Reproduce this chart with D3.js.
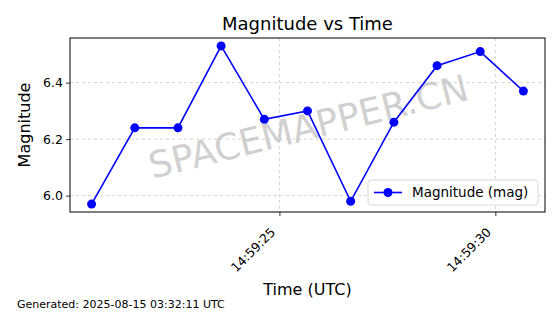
<!DOCTYPE html>
<html><head><meta charset="utf-8">
<script src="https://cdn.jsdelivr.net/npm/d3@7"></script>
<style>body{margin:0;background:#fff}svg{display:block;font-family:"DejaVu Sans",sans-serif}</style>
</head><body><div id="chart"></div>
<script>
const times = ["2025-08-15T14:59:20.65Z","2025-08-15T14:59:21.65Z","2025-08-15T14:59:22.65Z","2025-08-15T14:59:23.65Z","2025-08-15T14:59:24.65Z","2025-08-15T14:59:25.65Z","2025-08-15T14:59:26.65Z","2025-08-15T14:59:27.65Z","2025-08-15T14:59:28.65Z","2025-08-15T14:59:29.65Z","2025-08-15T14:59:30.65Z"];
const magnitudes = [5.97, 6.24, 6.24, 6.53, 6.27, 6.30, 5.98, 6.26, 6.46, 6.51, 6.37];
const xTicks = ["2025-08-15T14:59:25Z","2025-08-15T14:59:30Z"];
const yTicks = [6.0, 6.2, 6.4];
const title = "Magnitude vs Time", xLabel = "Time (UTC)", yLabel = "Magnitude";
const legendLabel = "Magnitude (mag)", watermark = "SPACEMAPPER.CN";
const footer = "Generated: 2025-08-15 03:32:11 UTC";

const W = 560, H = 314;
const m = {left:70, right:545, top:38, bottom:212};
const data = times.map((t,i)=>({t:new Date(t), v:magnitudes[i]}));
const svg = d3.select("#chart").append("svg").attr("width",W).attr("height",H);

const tExt = d3.extent(data,d=>+d.t), tPad=(tExt[1]-tExt[0])*0.05;
const x = d3.scaleUtc().domain([tExt[0]-tPad, tExt[1]+tPad]).range([m.left,m.right]);
const vExt = d3.extent(magnitudes), vPad=(vExt[1]-vExt[0])*0.05;
const y = d3.scaleLinear().domain([vExt[0]-vPad, vExt[1]+vPad]).range([m.bottom,m.top]);
const xt = xTicks.map(s=>new Date(s));

// grid
const g = svg.append("g");
g.selectAll(".gx").data(xt).join("line").attr("x1",d=>x(d)).attr("x2",d=>x(d)).attr("y1",m.top).attr("y2",m.bottom)
 .attr("stroke","#b0b0b0").attr("stroke-opacity",0.7).attr("stroke-width",0.8).attr("stroke-dasharray","3,3");
g.selectAll(".gy").data(yTicks).join("line").attr("y1",d=>y(d)).attr("y2",d=>y(d)).attr("x1",m.left).attr("x2",m.right)
 .attr("stroke","#b0b0b0").attr("stroke-opacity",0.7).attr("stroke-width",0.8).attr("stroke-dasharray","3,3");

// watermark
svg.append("text").attr("transform",`translate(${(m.left+m.right)/2+1},${(m.top+m.bottom)/2+2}) rotate(-14)`)
 .attr("text-anchor","middle").attr("dominant-baseline","central").attr("font-size",36.5)
 .attr("fill","#bbbbbb").attr("fill-opacity",0.7).text(watermark);

// line + points
svg.append("path").datum(data).attr("fill","none").attr("stroke","#0000ff").attr("stroke-width",1.6)
 .attr("d",d3.line().x(d=>x(d.t)).y(d=>y(d.v)));
svg.selectAll(".pt").data(data).join("circle").attr("cx",d=>x(d.t)).attr("cy",d=>y(d.v)).attr("r",4.5).attr("fill","#0000ff");

// axes
const xAxis = svg.append("g").attr("transform",`translate(0,${m.bottom})`)
 .call(d3.axisBottom(x).tickValues(xt).tickFormat(d3.utcFormat("%H:%M:%S")).tickSizeOuter(0).tickSize(4));
xAxis.selectAll("text").attr("font-size",12.5).attr("fill","#000").attr("font-family","DejaVu Sans")
 .attr("text-anchor","end").attr("transform","translate(-7,18) rotate(-45)").attr("dy","0.35em").attr("y",0).attr("x",0);
const yAxis = svg.append("g").attr("transform",`translate(${m.left},0)`)
 .call(d3.axisLeft(y).tickValues(yTicks).tickFormat(d3.format(".1f")).tickSizeOuter(0).tickSize(4));
yAxis.selectAll("text").attr("font-size",12.5).attr("fill","#000").attr("font-family","DejaVu Sans");
svg.selectAll(".domain").remove();
svg.selectAll(".tick line").attr("stroke","#000").attr("stroke-width",0.8);
svg.append("rect").attr("x",m.left).attr("y",m.top).attr("width",m.right-m.left).attr("height",m.bottom-m.top)
 .attr("fill","none").attr("stroke","#000").attr("stroke-width",1);

// texts
svg.append("text").attr("x",(m.left+m.right)/2).attr("y",30).attr("text-anchor","middle").attr("font-size",18).text(title);
svg.append("text").attr("x",(m.left+m.right)/2).attr("y",295).attr("text-anchor","middle").attr("font-size",16).text(xLabel);
svg.append("text").attr("transform",`translate(30,${(m.top+m.bottom)/2}) rotate(-90)`).attr("text-anchor","middle").attr("font-size",16).text(yLabel);
svg.append("text").attr("x",17).attr("y",308).attr("font-size",11).text(footer);

// legend
const lg = svg.append("g").attr("transform","translate(368,180)");
lg.append("rect").attr("width",170).attr("height",25).attr("rx",3).attr("fill","#fff").attr("fill-opacity",0.8).attr("stroke","#d8d8d8");
lg.append("line").attr("x1",6).attr("x2",34).attr("y1",12.5).attr("y2",12.5).attr("stroke","#0000ff").attr("stroke-width",1.6);
lg.append("circle").attr("cx",20).attr("cy",12.5).attr("r",4.5).attr("fill","#0000ff");
lg.append("text").attr("x",44).attr("y",12.5).attr("dy","0.35em").attr("font-size",13.5).text(legendLabel);
</script></body></html>
